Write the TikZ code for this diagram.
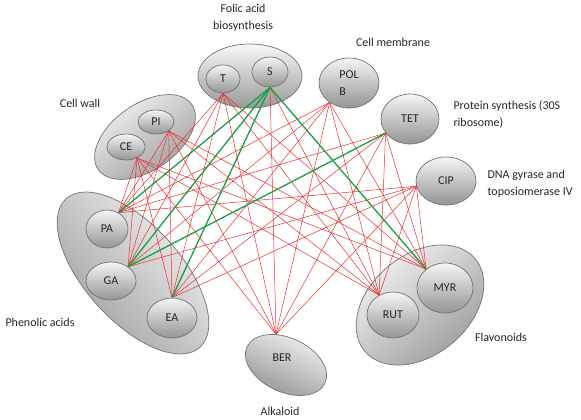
\documentclass[tikz,border=0pt]{standalone}
\usepackage{fontspec}
\setmainfont{Carlito}
\usetikzlibrary{shapes.geometric}
\definecolor{linkred}{RGB}{240,45,45}
\definecolor{linkgreen}{RGB}{25,160,70}
\definecolor{rimgray}{RGB}{115,115,115}
\begin{document}
\begin{tikzpicture}[x=1pt, y=-1pt,
  grp/.style={ellipse, draw=rimgray, line width=0.7pt, top color=black!3, bottom color=black!40, inner sep=0pt},
  drug/.style={ellipse, draw=rimgray, line width=0.7pt, top color=black!4, bottom color=black!42, inner sep=0pt, text=black!85, font=\fontsize{12}{17}\selectfont},
  txt/.style={text=black!85, font=\fontsize{12}{17}\selectfont},
  hit/.style={linkred, line width=0.5pt},
  syn/.style={linkgreen, line width=1.3pt}]
\useasboundingbox (0,0) rectangle (581,420);
% groups
\node[grp, minimum width=104, minimum height=64] (gFol) at (250,76){};
\node[grp, minimum width=114, minimum height=66, rotate=35, shading angle=35] (gWall) at (145,137){};
\node[grp, minimum width=200, minimum height=96, rotate=-48, shading angle=-48] (gPhen) at (133,273){};
\node[grp, minimum width=144, minimum height=100, rotate=40, shading angle=40] (gFlav) at (420,305){};
% drugs
\node[drug, minimum width=34, minimum height=28] (T) at (223,79){T};
\node[drug, minimum width=36, minimum height=30] (S) at (270,72){S};
\node[drug, minimum width=36, minimum height=24] (PI) at (156,122){PI};
\node[drug, minimum width=38, minimum height=26] (CE) at (126,147){CE};
\node[drug, minimum width=60, minimum height=50, align=left] (POLB) at (349,83){POL\\B};
\node[drug, minimum width=58, minimum height=50] (TET) at (410,119){TET};
\node[drug, minimum width=60, minimum height=48] (CIP) at (446,181){CIP};
% phytochemicals
\node[drug, minimum width=42, minimum height=38] (PA) at (107,229){PA};
\node[drug, minimum width=50, minimum height=38] (GA) at (111,281){GA};
\node[drug, minimum width=50, minimum height=40] (EA) at (172,318){EA};
\node[drug, minimum width=86, minimum height=54, rotate=-25, shading angle=-25] (BER) at (286,365){};
\node[txt] (tBER) at (282,358){BER};
\node[drug, minimum width=52, minimum height=46] (RUT) at (393,315){RUT};
\node[drug, minimum width=56, minimum height=50] (MYR) at (445,288){MYR};
% labels
\node[txt, align=center] (lFol) at (243,18){Folic acid\\biosynthesis};
\node[txt] (lMem) at (393,42){Cell membrane};
\node[txt] (lWall) at (80,103){Cell wall};
\node[txt, align=left, anchor=west] (lProt) at (450,114){Protein synthesis (30S\\ribosome)};
\node[txt, align=left, anchor=west] (lDNA) at (484,184){DNA gyrase and\\toposiomerase IV};
\node[txt] (lPhen) at (40,322){Phenolic acids};
\node[txt] (lAlk) at (280,411){Alkaloid};
\node[txt] (lFlav) at (501,337){Flavonoids};
% interactions
\draw[hit](T.south) -- (PA.55);
\draw[hit](T.south) -- (GA.40);
\draw[hit](T.south) -- (EA.north);
\draw[hit](T.south) -- (BER.133);
\draw[hit](T.south) -- (RUT.125);
\draw[hit](T.south) -- (MYR.135);
\draw[hit](S.south) -- (BER.133);
\draw[hit](S.south) -- (RUT.125);
\draw[hit](PI.-35) -- (PA.55);
\draw[hit](PI.-35) -- (GA.40);
\draw[hit](PI.-35) -- (EA.north);
\draw[hit](PI.-35) -- (BER.133);
\draw[hit](PI.-35) -- (RUT.125);
\draw[hit](PI.-35) -- (MYR.135);
\draw[hit](CE.-45) -- (PA.55);
\draw[hit](CE.-45) -- (GA.40);
\draw[hit](CE.-45) -- (EA.north);
\draw[hit](CE.-45) -- (BER.133);
\draw[hit](CE.-45) -- (RUT.125);
\draw[hit](CE.-45) -- (MYR.135);
\draw[hit](POLB.225) -- (PA.55);
\draw[hit](POLB.225) -- (GA.40);
\draw[hit](POLB.225) -- (EA.north);
\draw[hit](POLB.225) -- (BER.133);
\draw[hit](POLB.225) -- (RUT.125);
\draw[hit](POLB.225) -- (MYR.135);
\draw[hit](TET.210) -- (PA.55);
\draw[hit](TET.210) -- (EA.north);
\draw[hit](TET.210) -- (BER.133);
\draw[hit](TET.210) -- (RUT.125);
\draw[hit](TET.210) -- (MYR.135);
\draw[hit](CIP.190) -- (PA.55);
\draw[hit](CIP.190) -- (GA.40);
\draw[hit](CIP.190) -- (EA.north);
\draw[hit](CIP.190) -- (BER.133);
\draw[hit](CIP.190) -- (RUT.125);
\draw[hit](CIP.190) -- (MYR.135);
\draw[syn](S.south) -- (PA.55);
\draw[syn](S.south) -- (GA.40);
\draw[syn](S.south) -- (EA.north);
\draw[syn](S.south) -- (MYR.135);
\draw[syn](TET.210) -- (GA.40);
\end{tikzpicture}
\end{document}
